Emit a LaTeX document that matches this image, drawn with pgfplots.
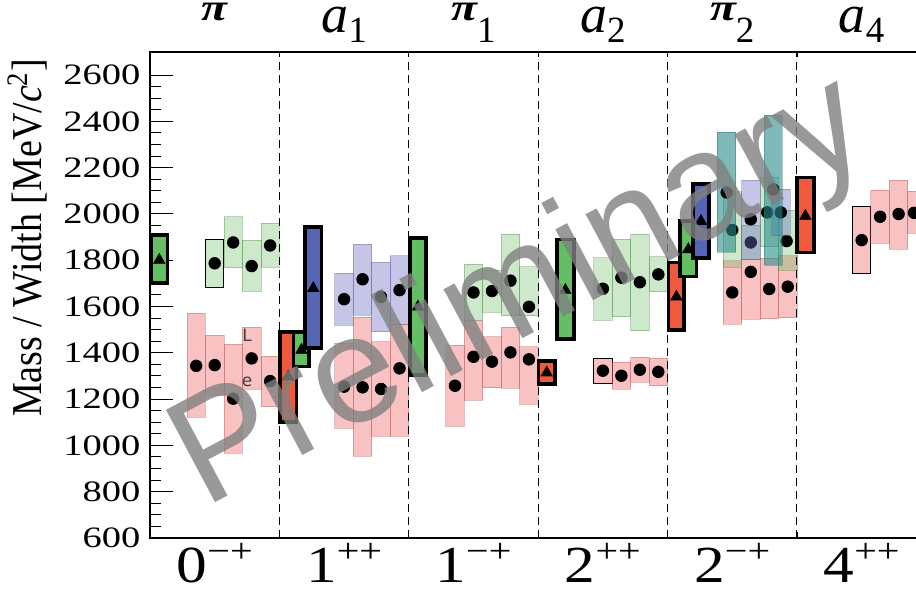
\documentclass[border=0pt]{standalone}
\usepackage{fontspec}
\setmainfont{Liberation Serif}
\newfontfamily\wmfont{Liberation Sans}
\newfontfamily\strayfont{DejaVu Sans}
\usepackage{pgfplots}
\pgfplotsset{compat=1.18}
\definecolor{pinkb}{RGB}{238,102,102}
\definecolor{greenb}{RGB}{90,180,80}
\definecolor{lavb}{RGB}{110,110,195}
\definecolor{tealb}{RGB}{40,140,140}
\definecolor{redt}{RGB}{240,90,60}
\definecolor{greent}{RGB}{100,190,100}
\definecolor{bluet}{RGB}{85,100,180}
\tikzset{
 pk/.style={mark=none, fill=pinkb, fill opacity=0.4, draw=pinkb!70!black, draw opacity=0.35, line width=0.4pt},
 pkb/.style={pk, draw=black, draw opacity=1, line width=0.5pt},
 gn/.style={mark=none, fill=greenb, fill opacity=0.3, draw=greenb!70!black, draw opacity=0.35, line width=0.4pt},
 gnb/.style={gn, draw=black, draw opacity=1, line width=0.5pt},
 lv/.style={mark=none, fill=lavb, fill opacity=0.4, draw=lavb!70!black, draw opacity=0.35, line width=0.4pt},
 tl/.style={mark=none, fill=tealb, fill opacity=0.6, draw=tealb!70!black, draw opacity=0.35, line width=0.4pt},
 thk/.style={mark=none, draw=black, line width=1.8pt, fill=#1},
 circ/.style={only marks, mark=*, mark size=2.9pt, black},
 tri/.style={only marks, mark=triangle*, mark size=3.2pt, black},
 catlab/.style={anchor=base, inner sep=0pt, xscale=1.18},
}
\newcommand{\BX}[5]{\addplot[#1] coordinates {(#2,#4) (#3,#4) (#3,#5) (#2,#5)} -- cycle;}
\newcommand{\bigf}{\fontsize{26}{26}\selectfont}
\newcommand{\supf}{\fontsize{17}{17}\selectfont}
\newcommand{\subf}{\fontsize{18.5}{18.5}\selectfont}
\newcommand{\PI}{\raisebox{11.1pt}{\scalebox{1.25}[1]{\fontsize{19}{19}\selectfont\bfseries\itshape π}}}
\newcommand{\A}{\raisebox{5pt}{\fontsize{27}{27}\selectfont\itshape a}}
\begin{document}
\begin{tikzpicture}
\begin{axis}[
 name=ax, scale only axis, width=383pt, height=243pt,
 xmin=0, xmax=5.92, ymin=600, ymax=2700,
 xtick=\empty,
 ytick={600,800,...,2600}, minor y tick num=3, ytick pos=left,
 major tick length=11.5pt, minor tick length=5.5pt,
 every tick/.append style={black, line width=0.5pt},
 axis line style={draw=none},
 clip mode=individual,
 scaled y ticks=false,
 /pgf/number format/assume math mode=true,
 /pgf/number format/1000 sep={},
 yticklabel style={font=\fontsize{14.8}{14.8}\selectfont, inner xsep=3.5pt, xscale=1.3},
 ylabel={Mass / Width [MeV/\textit{c}\textsuperscript{2}]},
 ylabel style={font=\fontsize{19}{19}\selectfont, at={(axis description cs:-0.16,1)}, anchor=east, yscale=1.12},
]
% ---------- pink ----------
\BX{pk}{0.2857}{0.4286}{1121}{1571}
\BX{pk}{0.4286}{0.5714}{1217}{1476}
\BX{pk}{0.5714}{0.7143}{966}{1437}
\BX{pk}{0.7143}{0.8571}{1244}{1510}
\BX{pk}{0.8571}{1.0}{1167}{1386}
\BX{pk}{1.4286}{1.5714}{1074}{1441}
\BX{pk}{1.5714}{1.7143}{954}{1553}
\BX{pk}{1.7143}{1.8571}{1041}{1448}
\BX{pk}{1.8571}{2.0}{1041}{1524}
\BX{pk}{2.2857}{2.4286}{1084}{1434}
\BX{pk}{2.4286}{2.5714}{1196}{1539}
\BX{pk}{2.5714}{2.7143}{1249}{1470}
\BX{pk}{2.7143}{2.8571}{1247}{1510}
\BX{pk}{2.8571}{3.0}{1178}{1427}
\BX{pkb}{3.4286}{3.5714}{1268}{1376}
\BX{pk}{3.5714}{3.7143}{1243}{1359}
\BX{pk}{3.7143}{3.8571}{1273}{1381}
\BX{pk}{3.8571}{4.0}{1258}{1376}
\BX{pk}{4.4286}{4.5714}{1523}{1798}
\BX{pk}{4.5714}{4.7143}{1545}{1804}
\BX{pk}{4.7143}{4.8571}{1547}{1808}
\BX{pk}{4.8571}{5.0}{1552}{1820}
\BX{pkb}{5.4286}{5.5714}{1741}{2034}
\BX{pk}{5.5714}{5.7143}{1873}{2103}
\BX{pk}{5.7143}{5.8571}{1848}{2147}
\BX{pk}{5.8571}{6.0}{1916}{2099}
\addplot[circ] coordinates {(0.3571,1344) (0.5,1347) (0.6429,1202) (0.7857,1376) (0.9286,1278)
 (1.5,1254) (1.6429,1251) (1.7857,1244) (1.9286,1333)
 (2.3571,1258) (2.5,1383) (2.6429,1362) (2.7857,1402) (2.9286,1372)
 (3.5,1323) (3.6429,1301) (3.7857,1327) (3.9286,1318)
 (4.5,1661) (4.6429,1750) (4.7857,1676) (4.9286,1686)
 (5.5,1887) (5.6429,1988) (5.7857,2000) (5.905,2005)};
% ---------- light green ----------
\BX{gnb}{0.4286}{0.5714}{1684}{1890}
\BX{gn}{0.5714}{0.7143}{1768}{1988}
\BX{gn}{0.7143}{0.8571}{1666}{1887}
\BX{gn}{0.8571}{1.0}{1769}{1960}
\BX{gn}{2.4286}{2.5714}{1542}{1782}
\BX{gn}{2.5714}{2.7143}{1575}{1758}
\BX{gn}{2.7143}{2.8571}{1560}{1912}
\BX{gn}{2.8571}{3.0}{1560}{1772}
\BX{gn}{3.4286}{3.5714}{1542}{1811}
\BX{gn}{3.5714}{3.7143}{1556}{1890}
\BX{gn}{3.7143}{3.8571}{1496}{1912}
\BX{gn}{3.8571}{4.0}{1664}{1815}
\BX{gn}{4.4286}{4.5714}{1769}{2096}
\BX{gn}{4.5714}{4.7143}{1804}{1952}
\BX{gn}{4.7143}{4.8571}{1858}{2158}
\BX{gn}{4.8571}{5.0}{1758}{2017}
\addplot[circ] coordinates {(0.5,1787) (0.6429,1877) (0.7857,1775) (0.9286,1864)
 (2.5,1661) (2.6429,1667) (2.7857,1712) (2.9286,1599)
 (3.5,1677) (3.6429,1725) (3.7857,1705) (3.9286,1739)
 (4.5,1931) (4.6429,1877) (4.7700,2007) (4.9200,1883)};
% ---------- lavender ----------
\BX{lv}{1.4286}{1.5714}{1520}{1743}
\BX{lv}{1.5714}{1.7143}{1563}{1869}
\BX{lv}{1.7143}{1.8571}{1491}{1791}
\BX{lv}{1.8571}{2.0}{1524}{1820}
\BX{lv}{4.5714}{4.7143}{1804}{2147}
\BX{lv}{4.804}{4.946}{1906}{2108}
\addplot[circ] coordinates {(1.5,1632) (1.6429,1718) (1.7857,1642) (1.9286,1671)
 (4.6429,1977) (4.875,2007)};
% ---------- teal ----------
\BX{tl}{4.384}{4.527}{1834}{2353}
\BX{tl}{4.745}{4.888}{1779}{2427}
\addplot[circ] coordinates {(4.457,2093) (4.817,2106)};
% ---------- thick boxes ----------
\BX{thk=greent}{0.0085}{0.135}{1701}{1908}
\addplot[tri] coordinates {(0.072,1801)};
\BX{thk=redt}{1.005}{1.132}{1100}{1491}
\addplot[tri] coordinates {(1.069,1297)};
\BX{thk=greent}{1.109}{1.230}{1341}{1491}
\addplot[tri] coordinates {(1.17,1412)};
\BX{thk=bluet}{1.199}{1.325}{1420}{1944}
\addplot[tri] coordinates {(1.262,1679)};
\BX{thk=greent}{2.010}{2.132}{1305}{1897}
\addplot[tri] coordinates {(2.071,1599)};
\BX{thk=redt}{3.002}{3.129}{1265}{1364}
\addplot[tri] coordinates {(3.066,1314)};
\BX{thk=greent}{3.144}{3.276}{1459}{1889}
\addplot[tri] coordinates {(3.21,1671)};
\BX{thk=redt}{4.007}{4.128}{1499}{1790}
\addplot[tri] coordinates {(4.068,1642)};
\BX{thk=greent}{4.097}{4.223}{1730}{1969}
\addplot[tri] coordinates {(4.16,1847)};
\BX{thk=bluet}{4.195}{4.321}{1809}{2129}
\addplot[tri] coordinates {(4.258,1969)};
\BX{thk=redt}{4.998}{5.131}{1834}{2157}
\addplot[tri] coordinates {(5.065,1991)};
% ---------- separators ----------
\pgfplotsinvokeforeach{1,2,3,4,5}{
 \addplot[black, mark=none, line width=0.5pt, dash pattern=on 4pt off 2.5pt] coordinates {(#1,600) (#1,2700)};
 \addplot[black, mark=none, line width=0.6pt] coordinates {(#1,2700) (#1,2680)};
 \addplot[black, mark=none, line width=0.6pt] coordinates {(#1,600) (#1,625)};
}
\draw[line width=0.9pt] (rel axis cs:1,1) -- (rel axis cs:0,1) -- (rel axis cs:0,0) -- (rel axis cs:1,0);
% stray letters
\node[font=\strayfont\fontsize{8.5}{8.5}\selectfont, text=black!75] at (axis cs:0.75,1477) {L};
\node[font=\strayfont\fontsize{8.5}{8.5}\selectfont, text=black!75] at (axis cs:0.75,1275) {e};
% category labels
\node[catlab, yshift=-22.5pt] at (axis cs:0.5,600) {\bigf 0\raisebox{10pt}{\supf −+}};
\node[catlab, yshift=-22.5pt] at (axis cs:1.5,600) {\bigf 1\raisebox{10pt}{\supf ++}};
\node[catlab, yshift=-22.5pt] at (axis cs:2.5,600) {\bigf 1\raisebox{10pt}{\supf −+}};
\node[catlab, yshift=-22.5pt] at (axis cs:3.5,600) {\bigf 2\raisebox{10pt}{\supf ++}};
\node[catlab, yshift=-22.5pt] at (axis cs:4.5,600) {\bigf 2\raisebox{10pt}{\supf −+}};
\node[catlab, yshift=-22.5pt] at (axis cs:5.5,600) {\bigf 4\raisebox{10pt}{\supf ++}};
\node[anchor=base, inner sep=0pt, yshift=4.5pt] at (axis cs:0.5,2700) {\PI};
\node[anchor=base, inner sep=0pt, yshift=4.5pt] at (axis cs:1.5,2700) {\A{\subf 1}};
\node[anchor=base, inner sep=0pt, yshift=4.5pt] at (axis cs:2.5,2700) {\PI{\subf 1}};
\node[anchor=base, inner sep=0pt, yshift=4.5pt] at (axis cs:3.5,2700) {\A{\subf 2}};
\node[anchor=base, inner sep=0pt, yshift=4.5pt] at (axis cs:4.5,2700) {\PI{\subf 2}};
\node[anchor=base, inner sep=0pt, yshift=4.5pt] at (axis cs:5.5,2700) {\A{\subf 4}};
% watermark
\node[rotate=28, text=black!50, opacity=0.8, inner sep=0pt, font=\wmfont\fontsize{76}{76}\selectfont] at (axis cs:2.87,1650) {Preliminary};
\end{axis}
\pgfresetboundingbox
\path[use as bounding box] ([xshift=-75pt,yshift=-28pt]ax.south west) rectangle ([yshift=26pt]ax.north east);
\end{tikzpicture}
\end{document}
